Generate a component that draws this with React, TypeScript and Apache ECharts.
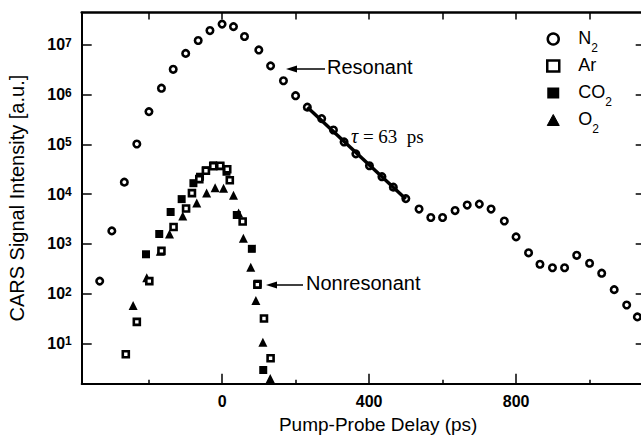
import React, { useEffect, useRef } from 'react';
import * as echarts from 'echarts';

// ---- data (delay in ps, CARS signal in a.u.) ----
const n2Delay = [-333, -300, -266, -232, -199, -165, -133, -99, -65, -33, 0, 31, 61, 100, 132, 167, 200, 232, 271, 303, 332, 364, 401, 435, 466, 500, 536, 568, 600, 634, 667, 700, 732, 768, 800, 834, 865, 899, 932, 965, 1000, 1033, 1067, 1101, 1130];
const n2Signal = [178, 1820, 1.74e4, 1.02e5, 4.57e5, 1.35e6, 3.24e6, 6.76e6, 1.23e7, 1.95e7, 2.63e7, 2.34e7, 1.48e7, 7.94e6, 3.8e6, 1.91e6, 9.55e5, 5.62e5, 3.31e5, 1.95e5, 1.12e5, 6.46e4, 3.72e4, 2.24e4, 1.38e4, 8.13e3, 5.01e3, 3.39e3, 3.39e3, 4.68e3, 6.03e3, 6.31e3, 5.01e3, 2.88e3, 1.38e3, 661, 389, 331, 331, 589, 407, 257, 120, 58.9, 33.9];

const arDelay = [-262, -232, -198, -165, -132, -98, -82, -62, -44, -24, -5, 14, 21, 56, 96, 114, 132];
const arSignal = [6.0, 26.9, 178, 724, 2190, 5130, 1.05e4, 2.0e4, 2.95e4, 3.63e4, 3.72e4, 3.16e4, 1.9e4, 2820, 151, 31.6, 5.0];

const co2Delay = [-207, -171, -140, -110, -78, -60, -44, -24, -5, 12, 40, 81, 97, 112];
const co2Signal = [617, 1580, 4370, 7940, 1.66e4, 2.24e4, 3.02e4, 3.8e4, 3.63e4, 2.82e4, 3800, 794, 158, 2.9];

const o2Delay = [-242, -205, -168, -143, -107, -69, -42, -19, 4, 31, 45, 58, 78, 92, 111, 131];
const o2Signal = [57.5, 209, 708, 1580, 3630, 6610, 1.05e4, 1.35e4, 1.32e4, 9550, 4170, 1290, 339, 72.4, 10.5, 1.95];

// exponential fit, tau = 63 ps
const fitDelay = [232, 500];
const fitSignal = [5.6e5, 8.0e3];

const xMajorTicks = [0, 400, 800];
const xMinorTicks = [-200, 200, 600, 1000];
const yDecadeTicks = [10, 100, 1000, 1e4, 1e5, 1e6, 1e7];

const X_MIN = -382;
const X_MAX = 1150;
const Y_MIN = 1.532;
const Y_MAX = 4.5e7;

const FONT = '"Liberation Sans", Arial, Helvetica, sans-serif';
const SERIF = '"Liberation Serif", "Times New Roman", serif';

const pairs = (xs: number[], ys: number[]) => xs.map((x, i) => [x, ys[i]]);

export default function App() {
  const ref = useRef<HTMLDivElement>(null);

  useEffect(() => {
    if (!ref.current) return;
    const chart = echarts.init(ref.current, undefined, { renderer: 'svg' });

    const black = '#000';
    const subName = (name: string) => {
      const m = name.match(/^(\D+)(\d)$/);
      return m ? `{b|${m[1]}}{sub|${m[2]}}` : `{b|${name}}{sub| }`;
    };

    const option: any = {
      animation: false,
      backgroundColor: '#fff',
      grid: {
        left: 81.7,
        top: 12.5,
        width: 563,
        height: 371.3,
        containLabel: false,
        outerBoundsMode: 'none',
      },
      xAxis: [
        {
          type: 'value',
          position: 'bottom',
          min: X_MIN,
          max: X_MAX,
          axisLine: { show: true, onZero: false, lineStyle: { color: black, width: 2 } },
          axisTick: { show: true, inside: true, length: 10, customValues: xMajorTicks, lineStyle: { color: black, width: 1.5 } },
          axisLabel: { customValues: xMajorTicks, color: black, fontSize: 16, fontWeight: 'bold', fontFamily: FONT, margin: 10 },
          splitLine: { show: false },
          name: 'Pump-Probe Delay (ps)',
          nameLocation: 'middle',
          nameGap: 29,
          nameTextStyle: { color: black, fontSize: 19, fontFamily: FONT, padding: [0, 0, 0, 30] },
        },
        {
          type: 'value',
          position: 'bottom',
          min: X_MIN,
          max: X_MAX,
          axisLine: { show: false, onZero: false },
          axisTick: { show: true, inside: true, length: 4, customValues: xMinorTicks, lineStyle: { color: black, width: 1.5 } },
          axisLabel: { show: false },
          splitLine: { show: false },
        },
        {
          type: 'value',
          position: 'top',
          min: X_MIN,
          max: X_MAX,
          axisLine: { show: true, onZero: false, lineStyle: { color: black, width: 2.5 } },
          axisTick: { show: true, inside: true, length: 7, customValues: [...xMinorTicks, ...xMajorTicks], lineStyle: { color: black, width: 1.5 } },
          axisLabel: { show: false },
          splitLine: { show: false },
        },
      ],
      yAxis: [
        {
          type: 'log',
          logBase: 10,
          position: 'left',
          min: Y_MIN,
          max: Y_MAX,
          axisLine: { show: true, onZero: false, lineStyle: { color: black, width: 2 } },
          axisTick: { show: true, inside: true, length: 10, customValues: yDecadeTicks, lineStyle: { color: black, width: 1.5 } },
          minorTick: { show: false },
          axisLabel: {
            customValues: yDecadeTicks,
            margin: 10,
            formatter: (v: number) => `{b|10}{sup|${Math.round(Math.log10(v))}}`,
            rich: {
              b: { fontSize: 16, fontWeight: 'bold', lineHeight: 16, padding: [8, 0, 0, 0], verticalAlign: 'bottom', fontFamily: FONT, color: black },
              sup: { fontSize: 12, fontWeight: 'bold', lineHeight: 12, verticalAlign: 'top', fontFamily: FONT, color: black },
            },
          },
          splitLine: { show: false },
          name: 'CARS Signal Intensity [a.u.]',
          nameLocation: 'middle',
          nameGap: 55,
          nameTextStyle: { color: black, fontSize: 20, fontFamily: FONT },
        },
        {
          type: 'log',
          logBase: 10,
          position: 'right',
          min: Y_MIN,
          max: Y_MAX,
          axisLine: { show: true, onZero: false, lineStyle: { color: black, width: 2 } },
          axisTick: { show: true, inside: true, length: 9, customValues: yDecadeTicks, lineStyle: { color: black, width: 1.5 } },
          minorTick: { show: false },
          axisLabel: { show: false },
          splitLine: { show: false },
        },
      ],
      legend: {
        orient: 'vertical',
        left: 546,
        top: 29,
        padding: 0,
        itemWidth: 12,
        itemHeight: 11,
        itemGap: 2,
        selectedMode: false,
        formatter: subName,
        textStyle: {
          color: black,
          fontFamily: FONT,
          rich: {
            b: { fontSize: 18, lineHeight: 20, padding: [0, 0, 0, 14], verticalAlign: 'top', fontFamily: FONT, color: black },
            sub: { fontSize: 12, lineHeight: 12, padding: [13, 0, 0, 0], verticalAlign: 'top', fontFamily: FONT, color: black },
          },
        },
        data: [
          { name: 'N2', icon: 'circle', itemStyle: { color: '#fff', borderColor: black, borderWidth: 2.5 } },
          { name: 'Ar', icon: 'rect', itemStyle: { color: '#fff', borderColor: black, borderWidth: 2.5 } },
          { name: 'CO2', icon: 'rect', itemStyle: { color: black, borderColor: black, borderWidth: 0 } },
          { name: 'O2', icon: 'triangle', itemStyle: { color: black, borderColor: black, borderWidth: 1 } },
        ],
      },
      series: [
        {
          name: 'N2',
          type: 'scatter',
          data: pairs(n2Delay, n2Signal),
          symbol: 'circle',
          symbolSize: 6.5,
          itemStyle: { color: '#fff', borderColor: black, borderWidth: 2.6, opacity: 1 },
          z: 2,
        },
        {
          name: 'CO2',
          type: 'scatter',
          data: pairs(co2Delay, co2Signal),
          symbol: 'rect',
          symbolSize: 8,
          itemStyle: { color: black, opacity: 1 },
          z: 3,
        },
        {
          name: 'O2',
          type: 'scatter',
          data: pairs(o2Delay, o2Signal),
          symbol: 'triangle',
          symbolSize: 9,
          itemStyle: { color: black, opacity: 1 },
          z: 4,
        },
        {
          name: 'Ar',
          type: 'scatter',
          data: pairs(arDelay, arSignal),
          symbol: 'rect',
          symbolSize: 6,
          itemStyle: { color: '#fff', borderColor: black, borderWidth: 2.6, opacity: 1 },
          z: 5,
        },
        {
          name: 'fit',
          type: 'line',
          data: pairs(fitDelay, fitSignal),
          showSymbol: false,
          symbol: 'none',
          lineStyle: { color: black, width: 3.5 },
          silent: true,
          z: 6,
        },
      ],
      graphic: [
        // Resonant annotation
        { type: 'line', shape: { x1: 294, y1: 69, x2: 325, y2: 69 }, style: { stroke: black, lineWidth: 1.5 } },
        { type: 'polygon', shape: { points: [[286, 69], [297, 65.5], [297, 72.5]] }, style: { fill: black } },
        { type: 'text', left: 327, top: 57, style: { text: 'Resonant', fontSize: 20, fontFamily: FONT, fill: black } },
        // Nonresonant annotation
        { type: 'line', shape: { x1: 274, y1: 285, x2: 303, y2: 285 }, style: { stroke: black, lineWidth: 1.5 } },
        { type: 'polygon', shape: { points: [[266, 285], [277, 281.5], [277, 288.5]] }, style: { fill: black } },
        { type: 'text', left: 306, top: 273, style: { text: 'Nonresonant', fontSize: 20, fontFamily: FONT, fill: black } },
        // tau label
        {
          type: 'text',
          left: 351,
          top: 126,
          style: {
            text: '{t|τ}{r| = 63  ps}',
            rich: {
              t: { fontSize: 20, fontStyle: 'italic', fontFamily: SERIF, fill: black },
              r: { fontSize: 19, fontFamily: SERIF, fill: black },
            },
          },
        },
      ],
    };

    chart.setOption(option);
    return () => chart.dispose();
  }, []);

  return (
    <div
      ref={ref}
      style={{ position: 'fixed', left: 0, top: 0, width: 641, height: 441, background: '#fff' }}
    />
  );
}
